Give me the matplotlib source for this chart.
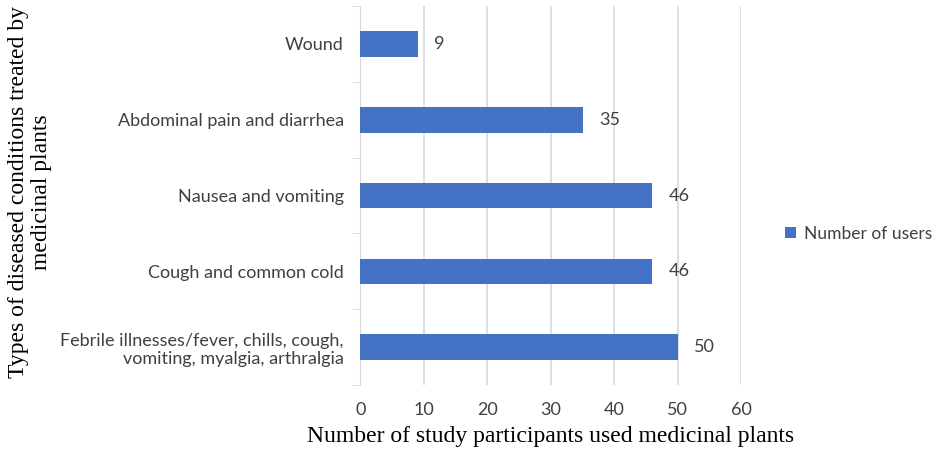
import numpy as np
import matplotlib.pyplot as plt

categories = ["Febrile illnesses/fever, chills, cough,\nvomiting, myalgia, arthralgia",
              "Cough and common cold",
              "Nausea and vomiting",
              "Abdominal pain and diarrhea",
              "Wound"]
users = [50, 46, 46, 35, 9]
x_ticks = [0, 10, 20, 30, 40, 50, 60]

bar_color = "#4472C4"
grid_color = "#d9d9d9"
text_color = "#404040"
fs = 13

fig = plt.figure(figsize=(9.36, 4.58), dpi=100)
ax = fig.add_axes([0.385, 0.159, 0.407, 0.828])

y = np.arange(len(categories))
bars = ax.barh(y, users, height=0.34, color=bar_color, label="Number of users", zorder=3)

ax.set_xlim(0, 60)
ax.set_ylim(-0.5, len(categories) - 0.5)
ax.set_xticks(x_ticks)
ax.set_xticklabels([str(t) for t in x_ticks], fontfamily="Lato", fontsize=fs, color=text_color)
ax.tick_params(axis="x", length=0, pad=12)

# category labels in between the boundary ticks
ax.set_yticks(y)
ax.set_yticklabels(categories, fontfamily="Lato", fontsize=fs, color=text_color)
ax.set_yticks(np.arange(len(categories) + 1) - 0.5, minor=True)
ax.tick_params(axis="y", which="major", length=0, pad=12)
ax.tick_params(axis="y", which="minor", length=6, color=grid_color)

ax.grid(axis="x", color=grid_color, linewidth=1.2, zorder=0)
for s in ["top", "right", "bottom"]:
    ax.spines[s].set_visible(False)
ax.spines["left"].set_color(grid_color)

for b, v in zip(bars, users):
    ax.text(v + 2.6, b.get_y() + b.get_height() / 2, str(v), va="center", ha="left",
            fontfamily="Lato", fontsize=fs, color=text_color)

ax.set_xlabel("Number of study participants used medicinal plants",
              fontfamily="Liberation Serif", fontsize=17, labelpad=6)
ax.set_ylabel("Types of diseased conditions treated by\nmedicinal plants",
              fontfamily="Liberation Serif", fontsize=17, linespacing=1.1)
ax.yaxis.set_label_coords(-0.81, 0.51)

leg = fig.legend(handles=[bars], labels=["Number of users"], loc="center left",
                 bbox_to_anchor=(0.839, 0.49), frameon=False, handlelength=0.6,
                 handleheight=0.6, handletextpad=0.45, borderpad=0, borderaxespad=0,
                 prop={"family": "Lato", "size": 12.5})
for t in leg.get_texts():
    t.set_color(text_color)

fig.savefig("out.png", dpi=100)
